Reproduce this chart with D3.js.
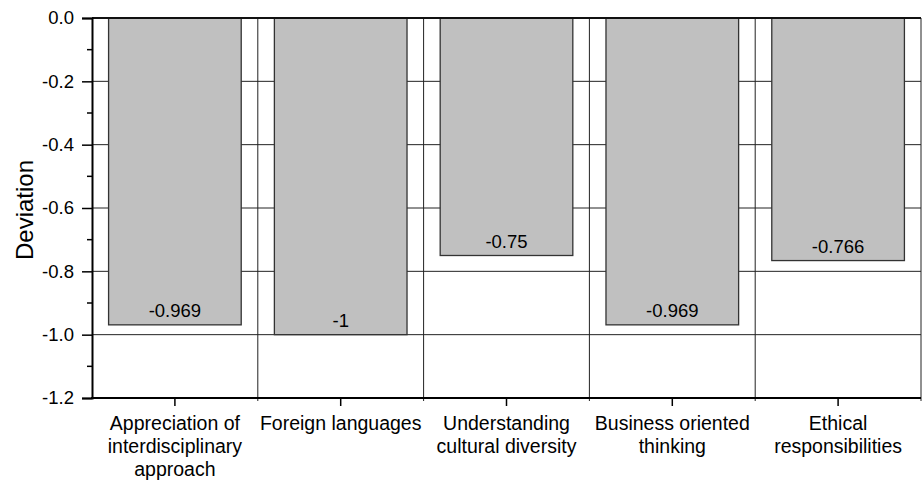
<!DOCTYPE html>
<html><head><meta charset="utf-8">
<script src="https://cdn.jsdelivr.net/npm/d3@7"></script>
<style>body{margin:0;background:#fff}text{font-family:"Liberation Sans",Arial,Helvetica,sans-serif;fill:#000}</style>
</head><body><svg id="c" width="924" height="484"></svg>
<script>
const categories = [["Appreciation of","interdisciplinary","approach"],["Foreign languages"],["Understanding","cultural diversity"],["Business oriented","thinking"],["Ethical","responsibilities"]];
const values = [-0.969, -1, -0.75, -0.969, -0.766];
const valueLabels = ["-0.969","-1","-0.75","-0.969","-0.766"];
const yTicks = [0, -0.2, -0.4, -0.6, -0.8, -1.0, -1.2];
const yTickLabels = ["0.0","-0.2","-0.4","-0.6","-0.8","-1.0","-1.2"];
const yMinorTicks = [-0.1, -0.3, -0.5, -0.7, -0.9, -1.1];

const svg = d3.select("#c");
const L = 92, R = 921, T = 18, B = 398;
const x = d3.scaleBand().domain(d3.range(categories.length)).range([L, R]).padding(0);
const y = d3.scaleLinear().domain([0, -1.2]).range([T, B]);
const bw = x.bandwidth();

// grid
const g = svg.append("g");
g.selectAll("line.h").data(yTicks.slice(1, -1)).join("line")
  .attr("x1", L).attr("x2", R).attr("y1", d => y(d)).attr("y2", d => y(d))
  .attr("stroke", "#222").attr("stroke-width", 1);
g.selectAll("line.v").data(d3.range(1, categories.length + 1)).join("line")
  .attr("x1", d => x(0) + d * bw).attr("x2", d => x(0) + d * bw)
  .attr("y1", T).attr("y2", B + 3)
  .attr("stroke", "#222").attr("stroke-width", 1);

// bars
svg.selectAll("rect.bar").data(values).join("rect")
  .attr("x", (d, i) => x(i) + bw * 0.1)
  .attr("width", bw * 0.8)
  .attr("y", y(0))
  .attr("height", d => y(d) - y(0))
  .attr("fill", "#c0c0c0").attr("stroke", "#333").attr("stroke-width", 1.3);

svg.selectAll("text.val").data(values).join("text")
  .attr("x", (d, i) => x(i) + bw / 2)
  .attr("y", d => y(d) - 7.5)
  .attr("text-anchor", "middle").attr("font-size", 18.5)
  .text((d, i) => valueLabels[i]);

// top border
svg.append("line").attr("x1", L).attr("x2", R).attr("y1", T).attr("y2", T).attr("stroke", "#111").attr("stroke-width", 2);

// y axis
const ya = svg.append("g").attr("transform", `translate(${L},0)`)
  .call(d3.axisLeft(y).tickValues(yTicks).tickFormat((d, i) => yTickLabels[i]).tickSize(10).tickPadding(8));
ya.select(".domain").attr("stroke", "#000").attr("stroke-width", 2);
ya.selectAll(".tick line").attr("stroke-width", 1.5);
ya.selectAll("text").attr("font-size", 18.5).style("font-family", '"Liberation Sans",Arial,sans-serif');
svg.append("g").selectAll("line").data(yMinorTicks).join("line")
  .attr("x1", L - 5).attr("x2", L).attr("y1", d => y(d)).attr("y2", d => y(d))
  .attr("stroke", "#000").attr("stroke-width", 1.5);

// x axis
const xa = svg.append("g").attr("transform", `translate(0,${B})`);
xa.append("line").attr("x1", L - 1).attr("x2", R).attr("y1", 0).attr("y2", 0).attr("stroke", "#000").attr("stroke-width", 2);
xa.selectAll("line.tk").data(categories).join("line")
  .attr("x1", (d, i) => x(i) + bw / 2).attr("x2", (d, i) => x(i) + bw / 2)
  .attr("y1", 0).attr("y2", 8).attr("stroke", "#000").attr("stroke-width", 1.5);
xa.selectAll("text.lbl").data(categories).join("text")
  .attr("text-anchor", "middle").attr("font-size", 19.5)
  .attr("transform", (d, i) => `translate(${x(i) + bw / 2},32)`)
  .each(function(d) {
    d3.select(this).selectAll("tspan").data(d).join("tspan")
      .attr("x", 0).attr("y", (t, j) => j * 23).text(t => t);
  });

// y title
svg.append("text").attr("transform", "translate(33,210) rotate(-90)")
  .attr("text-anchor", "middle").attr("font-size", 24).text("Deviation");
</script></body></html>
